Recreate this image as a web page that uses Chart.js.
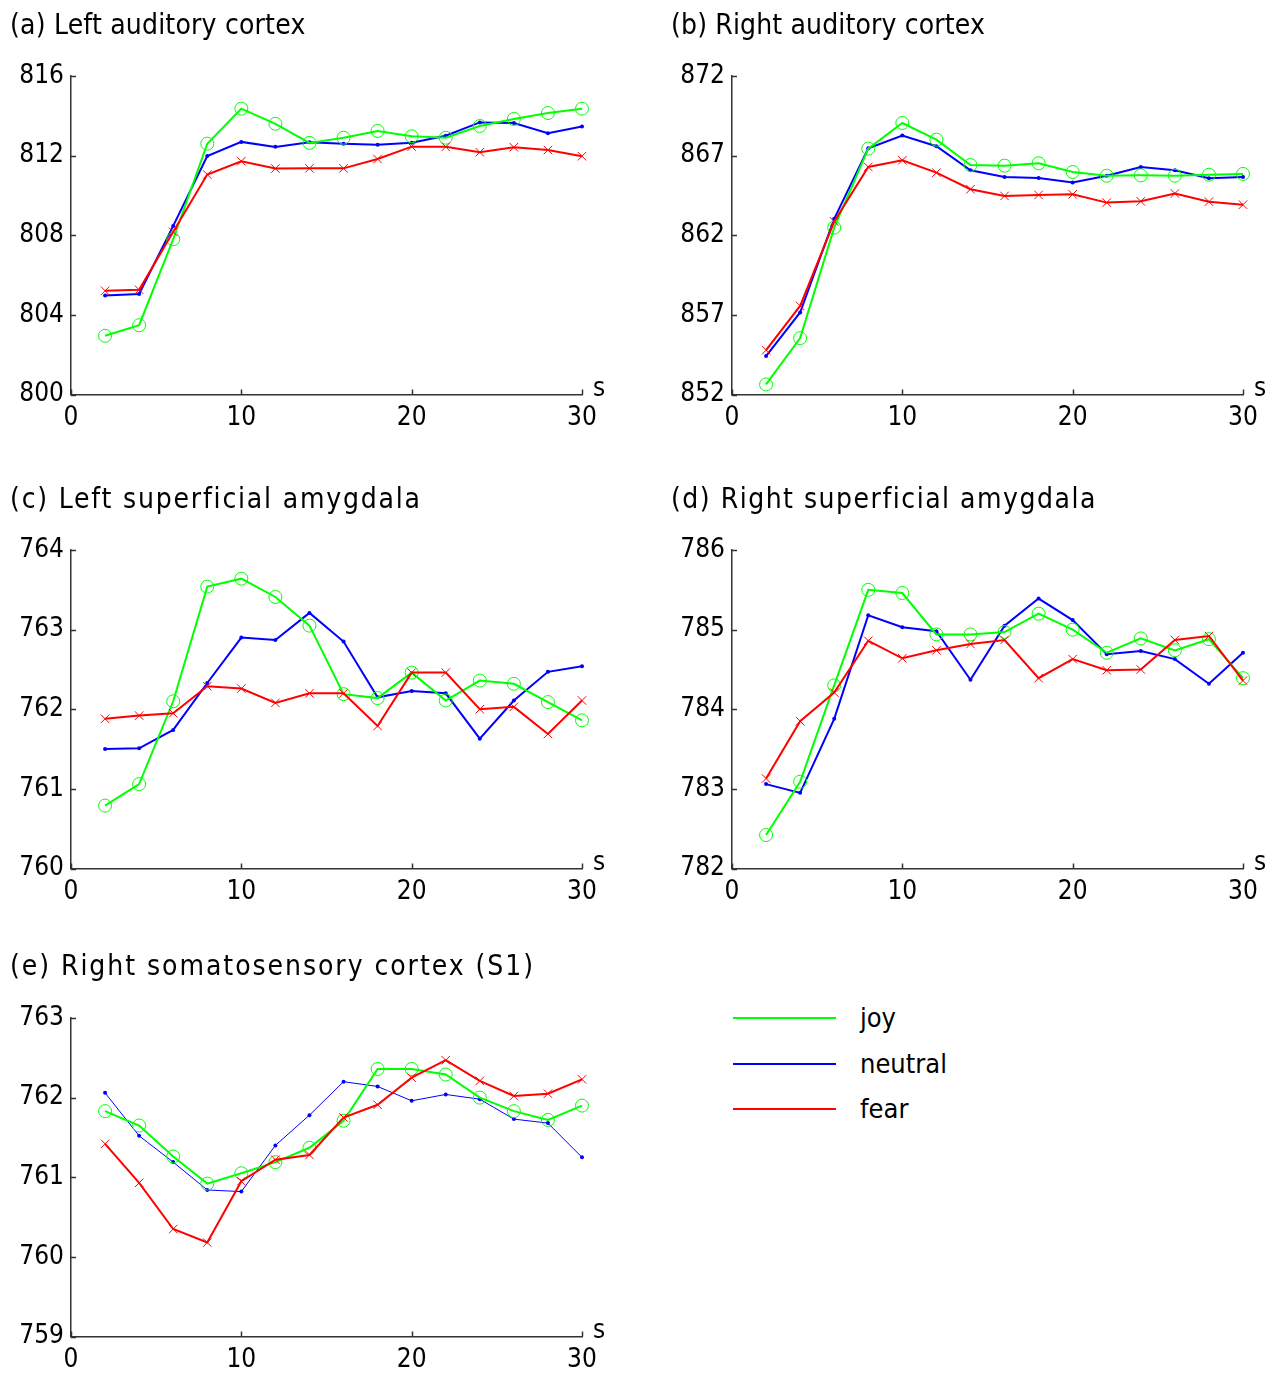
<!DOCTYPE html>
<html>
<head>
<meta charset="utf-8">
<script src="https://cdn.jsdelivr.net/npm/chart.js@4.4.1/dist/chart.umd.min.js"></script>
<style>
  html, body { margin: 0; padding: 0; background: #fff; }
  body { position: relative; width: 1278px; height: 1374px; overflow: hidden;
         font-family: "DejaVu Sans Condensed", "DejaVu Sans", sans-serif; }
  canvas { position: absolute; }
  .legend { position: absolute; left: 733px; top: 995px; }
  .legend .row { position: absolute; left: 0; width: 330px; height: 46px; }
  .legend .swatch { position: absolute; left: 0; top: 22px; width: 103px; height: 2px; }
  .legend .label { position: absolute; left: 127px; top: 3px; font-size: 27px; line-height: 40px; color: #000; }
</style>
</head>
<body>
<canvas id="pa" width="650" height="450" style="left:0px;top:0px"></canvas>
<canvas id="pb" width="650" height="450" style="left:660px;top:0px"></canvas>
<canvas id="pc" width="650" height="450" style="left:0px;top:474px"></canvas>
<canvas id="pd" width="650" height="450" style="left:660px;top:474px"></canvas>
<canvas id="pe" width="650" height="450" style="left:0px;top:942px"></canvas>
<div class="legend" id="legend"></div>
<script>
// time points (s)
const seconds = [2, 4, 6, 8, 10, 12, 14, 16, 18, 20, 22, 24, 26, 28, 30];
const xTicks = [0, 10, 20, 30];

// (a) left auditory cortex
const yTicksA = [800, 804, 808, 812, 816];
const joyA     = [802.95, 803.48, 807.8, 812.6, 814.36, 813.6, 812.64, 812.9, 813.24, 812.97, 812.9, 813.49, 813.84, 814.14, 814.36];
const neutralA = [804.97, 805.05, 808.47, 811.98, 812.69, 812.44, 812.67, 812.6, 812.55, 812.65, 813.0, 813.67, 813.64, 813.12, 813.46];
const fearA    = [805.21, 805.26, 808.17, 811.05, 811.72, 811.35, 811.36, 811.36, 811.83, 812.45, 812.44, 812.17, 812.42, 812.28, 811.97];

// (b) right auditory cortex
const yTicksB = [852, 857, 862, 867, 872];
const joyB     = [852.63, 855.54, 862.48, 867.44, 869.05, 868.0, 866.41, 866.37, 866.52, 865.97, 865.74, 865.76, 865.74, 865.8, 865.85];
const neutralB = [854.41, 857.15, 863.03, 867.46, 868.26, 867.59, 866.08, 865.66, 865.6, 865.31, 865.74, 866.29, 866.08, 865.58, 865.66];
const fearB    = [854.78, 857.56, 862.86, 866.29, 866.71, 865.93, 864.89, 864.47, 864.53, 864.57, 864.05, 864.13, 864.62, 864.11, 863.92];

// (c) left superficial amygdala
const yTicksC = [760, 761, 762, 763, 764];
const joyC     = [760.79, 761.06, 762.1, 763.54, 763.64, 763.41, 763.05, 762.19, 762.14, 762.46, 762.11, 762.36, 762.32, 762.09, 761.86];
const neutralC = [761.5, 761.51, 761.74, 762.33, 762.9, 762.87, 763.21, 762.85, 762.15, 762.23, 762.2, 761.63, 762.11, 762.47, 762.54];
const fearC    = [761.88, 761.92, 761.95, 762.29, 762.26, 762.08, 762.2, 762.2, 761.79, 762.46, 762.46, 762.0, 762.03, 761.69, 762.11];

// (d) right superficial amygdala
const yTicksD = [782, 783, 784, 785, 786];
const joyD     = [782.42, 783.09, 784.3, 785.5, 785.46, 784.94, 784.94, 784.97, 785.2, 785.0, 784.71, 784.89, 784.74, 784.88, 784.39];
const neutralD = [783.06, 782.95, 783.88, 785.18, 785.03, 784.98, 784.37, 785.05, 785.39, 785.12, 784.69, 784.73, 784.63, 784.32, 784.71];
const fearD    = [783.13, 783.85, 784.21, 784.86, 784.64, 784.74, 784.82, 784.87, 784.39, 784.63, 784.49, 784.5, 784.87, 784.92, 784.36];

// (e) right somatosensory cortex (S1)
const yTicksE = [759, 760, 761, 762, 763];
const joyE     = [761.83, 761.65, 761.26, 760.92, 761.05, 761.19, 761.37, 761.71, 762.36, 762.36, 762.29, 762.0, 761.83, 761.72, 761.9];
const neutralE = [762.06, 761.52, 761.19, 760.84, 760.82, 761.4, 761.78, 762.2, 762.14, 761.96, 762.04, 761.98, 761.73, 761.68, 761.25];
const fearE    = [761.42, 760.93, 760.35, 760.18, 760.95, 761.22, 761.28, 761.75, 761.91, 762.25, 762.47, 762.21, 762.02, 762.05, 762.23];

const seriesNames = ['joy', 'neutral', 'fear'];
const seriesColors = ['#00ff00', '#0000ff', '#ff0000'];

const FONT = '"DejaVu Sans Condensed", "DejaVu Sans", sans-serif';
const AXIS_COLOR = '#333';

// title, inward tick marks and the "s" unit label
const panelDecor = {
  id: 'panelDecor',
  afterDraw(chart, args, opts) {
    const { ctx, chartArea, scales } = chart;
    ctx.save();
    ctx.strokeStyle = AXIS_COLOR;
    ctx.lineWidth = 1.5;
    ctx.beginPath();
    scales.x.ticks.forEach(t => {
      const px = Math.round(scales.x.getPixelForValue(t.value)) + 0.5;
      ctx.moveTo(px, chartArea.bottom);
      ctx.lineTo(px, chartArea.bottom - 5);
    });
    scales.y.ticks.forEach(t => {
      const py = Math.round(scales.y.getPixelForValue(t.value)) + 0.5;
      ctx.moveTo(chartArea.left, py);
      ctx.lineTo(chartArea.left + 5, py);
    });
    ctx.stroke();

    ctx.fillStyle = '#000';
    ctx.textBaseline = 'alphabetic';
    ctx.textAlign = 'left';
    ctx.font = '26px ' + FONT;
    ctx.fillText('s', chartArea.right + 11, chartArea.bottom + 1);
    ctx.font = '28px ' + FONT;
    ctx.letterSpacing = opts.spacing + 'px';
    ctx.fillText(opts.title, opts.titleX, opts.titleY);
    ctx.restore();
  }
};

function pts(vals) {
  return seconds.map((s, i) => ({ x: s, y: vals[i] }));
}

function makePanel({ id, title, titleX = 10, titleY = 34, spacing = 0, yTicks, joy, neutral, fear, axisWidth = 71, neutralWidth = 2 }) {
  const canvas = document.getElementById(id);
  const step = yTicks[1] - yTicks[0];
  return new Chart(canvas, {
    type: 'line',
    data: {
      datasets: [
        {
          label: seriesNames[0], data: pts(joy),
          borderColor: seriesColors[0], borderWidth: 2,
          pointStyle: 'circle', pointRadius: 6.5, pointBorderWidth: 1,
          pointBackgroundColor: 'rgba(0,0,0,0)', pointBorderColor: seriesColors[0],
          clip: false, order: 1
        },
        {
          label: seriesNames[1], data: pts(neutral),
          borderColor: seriesColors[1], borderWidth: neutralWidth,
          pointStyle: 'circle', pointRadius: 2, pointBorderWidth: 0,
          pointBackgroundColor: seriesColors[1],
          clip: false, order: 2
        },
        {
          label: seriesNames[2], data: pts(fear),
          borderColor: seriesColors[2], borderWidth: 2,
          pointStyle: 'crossRot', pointRadius: 6, pointBorderWidth: 1,
          pointBorderColor: seriesColors[2],
          clip: false, order: 0
        }
      ]
    },
    options: {
      responsive: false,
      devicePixelRatio: 1,
      animation: false,
      events: [],
      layout: { padding: { top: 76, right: 650 - axisWidth - 511, left: 0, bottom: 0 } },
      plugins: {
        legend: { display: false },
        tooltip: { enabled: false },
        panelDecor: { title, titleX, titleY, spacing }
      },
      scales: {
        x: {
          type: 'linear', min: 0, max: 30,
          afterFit: (s) => { s.height = 55.5; },
          afterBuildTicks: (s) => { s.ticks = xTicks.map(v => ({ value: v })); },
          grid: { display: true, drawOnChartArea: false, drawTicks: false },
          border: { display: true, color: AXIS_COLOR, width: 1.5 },
          ticks: { color: '#000', padding: 8, font: { family: FONT, size: 26 }, maxRotation: 0 }
        },
        y: {
          type: 'linear', min: yTicks[0], max: yTicks[yTicks.length - 1],
          afterFit: (s) => { s.width = axisWidth; },
          afterBuildTicks: (s) => { s.ticks = yTicks.map(v => ({ value: v })); },
          grid: { display: true, drawOnChartArea: false, drawTicks: false },
          border: { display: true, color: AXIS_COLOR, width: 1.5 },
          ticks: { color: '#000', padding: 7, font: { family: FONT, size: 26 }, stepSize: step }
        }
      }
    },
    plugins: [panelDecor]
  });
}

makePanel({ id: 'pa', title: '(a) Left auditory cortex', spacing: 0.2, yTicks: yTicksA, joy: joyA, neutral: neutralA, fear: fearA });
makePanel({ id: 'pb', title: '(b) Right auditory cortex', titleX: 11, spacing: 0.15, yTicks: yTicksB, joy: joyB, neutral: neutralB, fear: fearB, axisWidth: 72 });
makePanel({ id: 'pc', title: '(c) Left superficial amygdala', spacing: 1.8, yTicks: yTicksC, joy: joyC, neutral: neutralC, fear: fearC });
makePanel({ id: 'pd', title: '(d) Right superficial amygdala', titleX: 11, spacing: 1.5, yTicks: yTicksD, joy: joyD, neutral: neutralD, fear: fearD, axisWidth: 72 });
makePanel({ id: 'pe', title: '(e) Right somatosensory cortex (S1)', titleY: 33, spacing: 1.95, yTicks: yTicksE, joy: joyE, neutral: neutralE, fear: fearE, neutralWidth: 1 });

// shared legend
const legend = document.getElementById('legend');
seriesNames.forEach((name, i) => {
  const row = document.createElement('div');
  row.className = 'row';
  row.style.top = (i * 45.5) + 'px';
  row.innerHTML = `<div class="swatch" style="background:${seriesColors[i]}"></div><div class="label">${name}</div>`;
  legend.appendChild(row);
});
</script>
</body>
</html>
